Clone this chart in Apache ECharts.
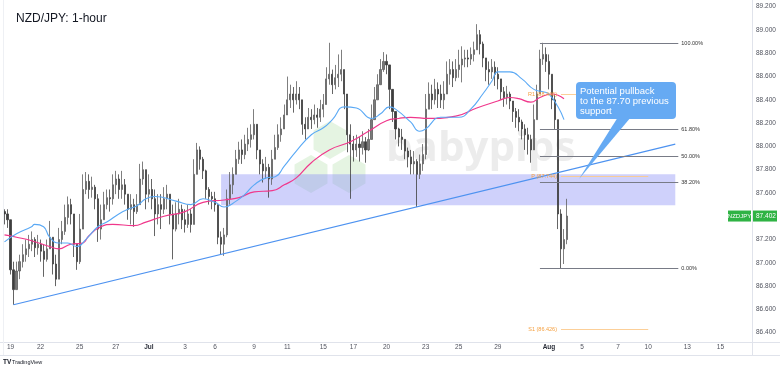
<!DOCTYPE html>
<html><head><meta charset="utf-8">
<script src="https://cdn.jsdelivr.net/npm/echarts@6/dist/echarts.min.js"></script>
<style>html,body{margin:0;padding:0;background:#fff}#c{width:780px;height:370px}</style>
</head><body><div id="c"></div>
<script>
const closes = [87.42,87.37,86.94,86.77,86.93,87.01,87.07,87.12,87.16,87.20,
87.13,87.16,87.10,87.03,87.12,87.22,86.99,86.86,87.20,87.27,
87.39,87.50,87.42,87.16,87.01,87.29,87.63,87.70,87.63,87.65,
87.55,87.29,87.37,87.50,87.56,87.55,87.67,87.72,87.63,87.67,
87.59,87.46,87.50,87.44,87.50,87.72,87.80,87.59,87.63,87.55,
87.42,87.50,87.46,87.55,87.59,87.42,87.29,87.42,87.46,87.37,
87.33,87.42,87.33,87.76,87.97,87.89,87.79,87.63,87.57,87.55,
87.50,87.22,87.16,87.24,87.55,87.67,87.76,87.89,87.97,87.93,
88.02,88.06,88.10,88.19,87.97,87.85,87.79,87.82,87.72,87.89,
87.99,88.10,88.15,88.27,88.40,88.45,88.40,88.45,88.40,88.19,
88.15,88.25,88.23,88.27,88.25,88.32,88.36,88.58,88.62,88.53,
88.59,88.62,88.66,88.45,88.10,88.02,87.97,88.02,87.99,88.04,
87.97,88.06,88.23,88.40,88.53,88.66,88.73,88.70,88.49,88.30,
88.15,88.08,88.06,87.96,87.91,87.85,87.87,87.76,87.85,87.93,
88.32,88.45,88.40,88.49,88.45,88.40,88.45,88.62,88.66,88.59,
88.66,88.70,88.75,88.76,88.75,88.79,88.83,88.96,88.88,88.76,
88.66,88.64,88.68,88.62,88.58,88.47,88.42,88.45,88.39,88.30,
88.25,88.21,88.15,88.10,88.06,87.97,88.23,88.45,88.75,88.79,
88.73,88.62,88.40,88.23,87.42,87.12,87.20,87.402];
const highs = [87.46,87.46,87.37,87.01,87.01,87.07,87.16,87.20,87.24,87.27,
87.22,87.24,87.20,87.16,87.20,87.36,87.20,87.07,87.30,87.36,
87.50,87.57,87.55,87.42,87.13,87.42,87.76,87.78,87.76,87.74,
87.67,87.59,87.50,87.61,87.63,87.63,87.76,87.79,87.76,87.79,
87.72,87.59,87.59,87.55,87.59,87.85,87.87,87.80,87.76,87.72,
87.63,87.59,87.59,87.65,87.67,87.59,87.50,87.52,87.55,87.50,
87.46,87.50,87.46,87.89,88.03,88.00,87.91,87.80,87.65,87.61,
87.61,87.50,87.27,87.30,87.63,87.78,87.82,87.97,88.04,88.06,
88.10,88.16,88.19,88.32,88.19,87.97,87.89,87.91,87.85,87.97,
88.10,88.19,88.25,88.36,88.60,88.53,88.51,88.56,88.51,88.40,
88.25,88.33,88.32,88.36,88.33,88.40,88.45,88.68,88.89,88.66,
88.70,88.79,88.83,88.66,88.40,88.19,88.09,88.10,88.08,88.13,
88.08,88.15,88.36,88.51,88.62,88.75,88.81,88.79,88.70,88.40,
88.25,88.16,88.15,88.06,87.99,87.97,87.96,87.89,87.93,88.02,
88.45,88.55,88.53,88.58,88.55,88.53,88.56,88.73,88.75,88.73,
88.75,88.83,88.86,88.83,88.83,88.85,88.90,89.05,89.00,88.90,
88.75,88.73,88.75,88.73,88.68,88.56,88.51,88.52,88.47,88.39,
88.33,88.32,88.23,88.19,88.16,88.10,88.36,88.53,88.83,88.89,
88.85,88.79,88.58,88.45,88.19,87.46,87.29,87.55];
const lows = [87.33,87.30,86.90,86.64,86.77,86.86,86.96,87.01,87.05,87.10,
87.05,87.07,87.01,86.88,87.01,87.12,86.90,86.80,86.94,87.16,
87.24,87.33,87.33,87.05,86.94,86.99,87.33,87.59,87.55,87.56,
87.46,87.18,87.20,87.42,87.46,87.44,87.50,87.59,87.55,87.55,
87.50,87.37,87.33,87.31,87.42,87.50,87.67,87.46,87.52,87.46,
87.23,87.33,87.29,87.42,87.46,87.33,87.03,87.27,87.33,87.29,
87.26,87.30,87.26,87.33,87.76,87.80,87.72,87.55,87.50,87.46,
87.44,87.16,87.07,87.06,87.22,87.50,87.59,87.76,87.85,87.85,
87.89,87.96,87.99,88.06,87.89,87.76,87.69,87.72,87.56,87.67,
87.89,87.97,88.04,88.15,88.27,88.33,88.29,88.36,88.32,88.10,
88.06,88.15,88.15,88.19,88.16,88.21,88.25,88.40,88.53,88.45,
88.49,88.51,88.56,88.32,87.95,87.55,87.87,87.91,87.87,87.93,
87.86,87.96,88.06,88.23,88.40,88.58,88.64,88.62,88.32,88.21,
88.06,88.00,87.97,87.89,87.82,87.76,87.76,87.48,87.72,87.79,
87.89,88.33,88.32,88.36,88.33,88.33,88.32,88.49,88.53,88.51,
88.56,88.59,88.55,88.68,88.68,88.70,88.73,88.83,88.79,88.68,
88.56,88.53,88.58,88.52,88.49,88.40,88.34,88.36,88.32,88.21,
88.16,88.13,88.06,87.97,87.93,87.86,88.02,88.27,88.45,88.70,
88.64,88.49,88.32,88.15,87.29,86.95,86.99,87.16];
const firstOpen = 87.44;

// moving averages: [bar, value]
const maFast = [[0,87.18],[4,87.25],[9,87.31],[10,87.33],[13,87.31],[15,87.22],[18,87.17],[21,87.17],[24,87.14],[27,87.20],[31,87.31],[34,87.35],[38,87.42],[41,87.46],[44,87.49],[47,87.55],[50,87.57],[57,87.53],[62,87.50],[66,87.55],[70,87.52],[73,87.48],[77,87.53],[80,87.59],[83,87.67],[87,87.73],[90,87.74],[93,87.83],[97,87.96],[102,88.10],[106,88.16],[109,88.23],[113,88.34],[117,88.33],[122,88.24],[125,88.28],[128,88.34],[130,88.32],[135,88.21],[138,88.13],[140,88.15],[145,88.25],[151,88.25],[155,88.32],[159,88.45],[162,88.56],[164,88.64],[168,88.64],[172,88.58],[176,88.49],[179,88.47],[181,88.45],[184,88.34],[186,88.23]];
const maSlow = [[0,87.24],[4,87.22],[9,87.19],[15,87.14],[18,87.12],[22,87.16],[26,87.17],[28,87.23],[32,87.31],[36,87.33],[43,87.32],[47,87.35],[53,87.40],[60,87.44],[66,87.52],[73,87.54],[78,87.56],[83,87.61],[89,87.62],[93,87.67],[97,87.73],[102,87.86],[108,87.97],[115,88.04],[121,88.13],[127,88.22],[131,88.24],[135,88.25],[141,88.24],[150,88.26],[157,88.33],[164,88.39],[168,88.42],[171,88.41],[175,88.38],[178,88.42],[182,88.45],[184,88.44],[186,88.41]];
const trendline = [[3,86.64],[223,88.02]];
const zoneBars = [72,223];
const zonePrices = [87.76,87.494];
const fibValues = [88.884,88.146,87.917,87.691,86.953];
const fibLabels = ['100.00%','61.80%','50.00%','38.20%','0.00%'];
const fibBars = [178,224];
const pivotValues = [88.446,87.744,86.426];
const pivotLabels = ['R1 (88.446)','P (87.744)','S1 (86.426)'];
const pivotBars = [185,214];
const tickLabels = ['19','22','25','27','Jul','3','6','9','11','15','17','20','23','25','29','Aug','5','7','10','13','15'];
const tickBars = [2,12,25,37,48,60,70,83,94,106,116,127,140,151,164,181,192,204,214,227,238];
const lastPrice = 87.402;
const nBars = 249;

// ---- build ----
const cats = new Array(nBars).fill('');
tickBars.forEach((b,i)=>{cats[b]=tickLabels[i];});
const candles = closes.map((c,i)=>{
  const o = i===0 ? firstOpen : closes[i-1];
  return [o, c, Math.min(lows[i],o,c), Math.max(highs[i],o,c)];
});
const FF = '"Liberation Sans", Arial, sans-serif';
const chart = echarts.init(document.getElementById('c'));
const fibLines = fibValues.map((v,i)=>[
  {coord:[fibBars[0],v], label:{formatter:fibLabels[i]}},
  {coord:[fibBars[1],v]}]);
const pivLines = pivotValues.map((v,i)=>[
  {coord:[pivotBars[0],v], label:{formatter:pivotLabels[i]}},
  {coord:[pivotBars[1],v]}]);

chart.setOption({
  animation:false,
  backgroundColor:'#ffffff',
  title:{text:'NZD/JPY: 1-hour', left:11, top:8, textStyle:{fontFamily:FF, fontSize:12, fontWeight:'normal', color:'#131722'}},
  grid:{left:3, right:28, top:6.7, bottom:37.3},
  xAxis:{type:'category', data:cats, boundaryGap:true,
    axisLine:{show:false}, axisTick:{show:false}, splitLine:{show:false},
    axisLabel:{interval:(i,v)=>v!=='', margin:11, fontSize:6.5, color:'#50535e', fontFamily:FF,
      formatter:v=>(v==='Jul'||v==='Aug')?'{b|'+v+'}':v,
      rich:{b:{fontWeight:'bold', fontSize:6.5, color:'#2a2e39', fontFamily:FF}}}},
  yAxis:{type:'value', position:'right', min:86.4, max:89.2, interval:0.2, scale:true,
    axisLine:{show:false}, axisTick:{show:false}, splitLine:{show:false},
    axisLabel:{margin:4, fontSize:6.5, color:'#50535e', fontFamily:FF, formatter:v=>v.toFixed(3)}},
  series:[
    {type:'line', data:[], z:1, silent:true,
      markArea:{silent:true, itemStyle:{color:'rgba(140,145,245,0.42)'},
        data:[[{coord:[zoneBars[0],zonePrices[0]]},{coord:[zoneBars[1],zonePrices[1]]}]]}},
    {type:'candlestick', data:candles, barWidth:1.6, z:3,
      itemStyle:{color:'#7a7a7a', color0:'#3e3e3e', borderColor:'#5e5e5e', borderColor0:'#3e3e3e', borderWidth:0.8}},
    {type:'line', data:maSlow, smooth:0.5, showSymbol:false, z:4,
      lineStyle:{color:'#f0378b', width:1.2}},
    {type:'line', data:maFast, smooth:0.5, showSymbol:false, z:4,
      lineStyle:{color:'#5aa9f5', width:1.1}},
    {type:'line', data:trendline, showSymbol:false, z:4,
      lineStyle:{color:'#4d92f0', width:1.2}},
    {type:'line', data:[], z:5, silent:true,
      markLine:{silent:true, symbol:'none', animation:false,
        lineStyle:{color:'#787b86', width:1, type:'solid'},
        label:{position:'end', distance:3, fontSize:5.5, color:'#333', fontFamily:FF},
        data:fibLines}},
    {type:'line', data:[], z:5, silent:true,
      markLine:{silent:true, symbol:'none', animation:false,
        lineStyle:{color:'#fcc98c', width:0.9, type:'solid'},
        label:{position:'start', distance:4, fontSize:5.5, color:'#f5a040', fontFamily:FF},
        data:pivLines}}
  ]
});

function hex(cx,cy,r){const p=[];for(let a=0;a<6;a++){const t=Math.PI/3*a+Math.PI/6;p.push([cx+r*Math.cos(t),cy+r*Math.sin(t)]);}return p;}
const py = chart.convertToPixel({yAxisIndex:0}, lastPrice);
chart.setOption({graphic:[
  {type:'polygon', z:0, shape:{points:hex(330,140,19)}, style:{fill:'rgba(170,220,160,0.3)'}},
  {type:'polygon', z:0, shape:{points:hex(311,174,19)}, style:{fill:'rgba(170,220,160,0.3)'}},
  {type:'polygon', z:0, shape:{points:hex(349,174,19)}, style:{fill:'rgba(170,220,160,0.3)'}},
  {type:'text', z:0, left:386, top:128, style:{text:'babypips', font:'bold 42px "Open Sans", sans-serif', fill:'rgba(220,220,220,0.55)'}},
  {type:'line', z:10, shape:{x1:752.5,y1:0,x2:752.5,y2:356}, style:{stroke:'#e0e3eb', lineWidth:1}},
  {type:'line', z:10, shape:{x1:0,y1:342.5,x2:780,y2:342.5}, style:{stroke:'#e0e3eb', lineWidth:1}},
  {type:'line', z:10, shape:{x1:0,y1:355.5,x2:780,y2:355.5}, style:{stroke:'#e0e3eb', lineWidth:1}},
  {type:'line', z:10, shape:{x1:3.5,y1:0,x2:3.5,y2:355}, style:{stroke:'#eef0f4', lineWidth:1}},
  {type:'rect', z:20, shape:{x:728, y:py-5.5, width:23, height:11}, style:{fill:'#2fb344'}},
  {type:'text', z:21, x:739.5, y:py, style:{text:'NZDJPY', font:'6px '+FF, fill:'#fff', align:'center', verticalAlign:'middle'}},
  {type:'rect', z:20, shape:{x:753, y:py-5.5, width:24, height:11}, style:{fill:'#2fb344'}},
  {type:'text', z:21, x:756, y:py, style:{text:lastPrice.toFixed(3), font:'6.5px '+FF, fill:'#fff', verticalAlign:'middle'}},
  {type:'polygon', z:30, shape:{points:[[618,117],[631,117],[579,179]]}, style:{fill:'#66aaf3'}},
  {type:'rect', z:30, shape:{x:576, y:82, width:100, height:37, r:4}, style:{fill:'#66aaf3'}},
  {type:'text', z:31, x:580, y:86, style:{text:'Potential pullback\nto the 87.70 previous\nsupport', font:'9.5px '+FF, lineHeight:10, fill:'#ffffff'}},
  {type:'text', z:31, x:3, y:359, style:{text:'TV', font:'bold 6.5px '+FF, fill:'#131722'}},
  {type:'text', z:31, x:12, y:359.5, style:{text:'TradingView', font:'5.5px '+FF, fill:'#131722'}}
]});
</script></body></html>
